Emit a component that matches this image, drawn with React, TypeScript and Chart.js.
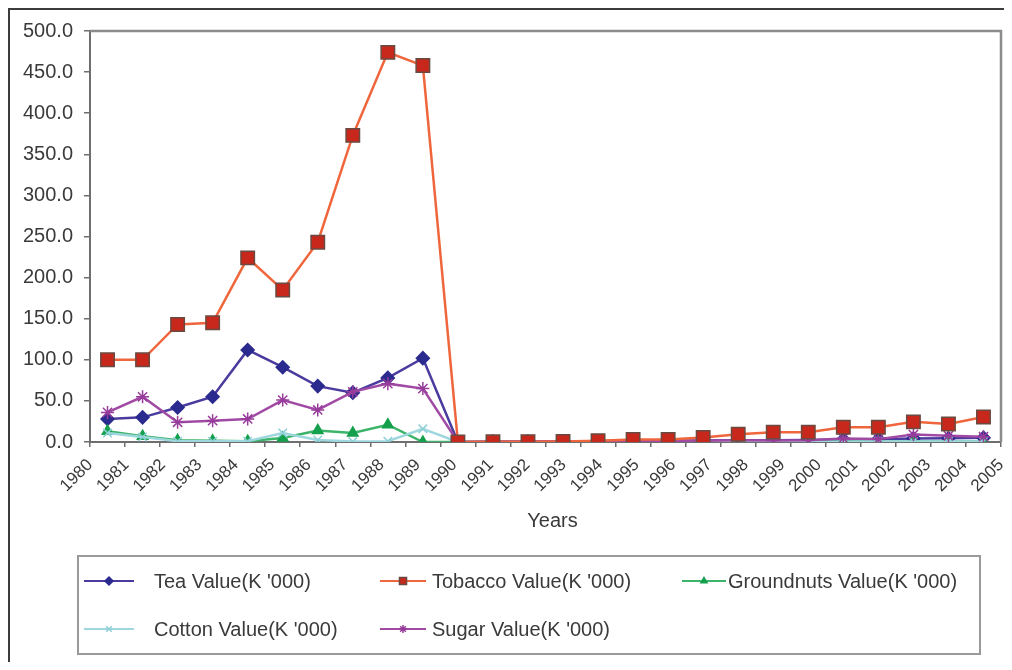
import React, { useEffect, useRef } from "react";
import { Chart, registerables } from "chart.js";
import { drawPoint } from "chart.js/helpers";

Chart.register(...registerables);

// Export values per crop, K '000, 1980-2005
const years = [
  "1980", "1981", "1982", "1983", "1984", "1985", "1986", "1987", "1988",
  "1989", "1990", "1991", "1992", "1993", "1994", "1995", "1996", "1997",
  "1998", "1999", "2000", "2001", "2002", "2003", "2004", "2005",
];

const teaValues = [
  28, 30, 42, 55, 112, 91, 68, 60, 78, 102, 0,
  0.3, 0.4, 0.6, 0.9, 1.1, 1.4, 1.7, 2.0, 2.1, 2.4, 2.9, 3.3, 4.2, 4.6, 5.2,
];

const tobaccoValues = [
  100, 100, 143, 145, 224, 185, 243, 373, 474, 458, 0,
  0.2, 0.4, 0.6, 1.5, 3, 3, 5.5, 9.5, 12, 12, 18, 18, 24.5, 22, 30.5,
];

const groundnutsValues = [
  13, 7, 2, 1.5, 1, 5, 14, 11, 21, 0, 0,
  0.1, 0.1, 0.2, 0.2, 0.3, 0.2, 0.3, 0.4, 0.3, 0.4, 0.5, 0.4, 0.6, 0.5, 0.6,
];

const cottonValues = [
  11, 6, 1, 1, 1, 11, 2.5, 0.5, 1, 16, 0,
  0.1, 0.1, 0.1, 0.2, 0.2, 0.2, 0.3, 0.3, 0.3, 0.4, 0.4, 0.5, 0.5, 0.6, 0.6,
];

const sugarValues = [
  36, 55, 24, 26, 28, 51, 39, 61, 71, 65, 0,
  0.5, 0.6, 0.8, 1, 1.3, 1.2, 1.5, 2, 1.8, 2.2, 4.4, 3.5, 9, 7.6, 6.4,
];

const yTicks = { min: 0, max: 500, step: 50 };

const FONT = '"Liberation Sans", Arial, Helvetica, sans-serif';
const TEXT = "#3a3a3a";

type Series = {
  label: string;
  data: number[];
  line: string;
  fill: string;
  border: string;
  style: string;
  radius: number;
  legendRadius: number;
  order: number;
};

const series: Series[] = [
  { label: "Tea Value(K '000)", data: teaValues, line: "#4a3c9e", fill: "#2b2a8e", border: "#2b2a8e", style: "rectRot", radius: 6.5, legendRadius: 4, order: 5 },
  { label: "Tobacco Value(K '000)", data: tobaccoValues, line: "#f0663c", fill: "#c8281c", border: "#6a4a40", style: "rect", radius: 9.5, legendRadius: 5, order: 1 },
  { label: "Groundnuts Value(K '000)", data: groundnutsValues, line: "#3cb46a", fill: "#14a04c", border: "#14a04c", style: "triangle", radius: 6, legendRadius: 3.5, order: 4 },
  { label: "Cotton Value(K '000)", data: cottonValues, line: "#9ed8de", fill: "#8fd0d8", border: "#8fd0d8", style: "crossRot", radius: 6, legendRadius: 4, order: 3 },
  { label: "Sugar Value(K '000)", data: sugarValues, line: "#a04aa4", fill: "#983c9c", border: "#983c9c", style: "star", radius: 6.5, legendRadius: 4, order: 2 },
];

// legend grid: [sample start, sample end, text x, row y] in canvas pixels
const legendSlots = [
  [76, 126, 146, 573],
  [372, 418, 424, 573],
  [674, 718, 720, 573],
  [76, 126, 146, 621],
  [372, 418, 424, 621],
];

const decorPlugin = {
  id: "decor",
  beforeDatasetsDraw(chart: any) {
    const { ctx, chartArea: a } = chart;
    ctx.save();
    // plot frame
    ctx.strokeStyle = "#8c8c8c";
    ctx.lineWidth = 2.5;
    ctx.beginPath();
    ctx.moveTo(a.left, a.top);
    ctx.lineTo(a.right, a.top);
    ctx.lineTo(a.right, a.bottom);
    ctx.stroke();
    ctx.restore();
  },
  afterDraw(chart: any) {
    const { ctx, chartArea: a, width } = chart;
    ctx.save();
    // outer frame
    ctx.strokeStyle = "#3c3c3c";
    ctx.lineWidth = 2;
    ctx.beginPath();
    ctx.moveTo(1, chart.height);
    ctx.lineTo(1, 1);
    ctx.lineTo(width, 1);
    ctx.stroke();

    // axis title
    ctx.fillStyle = TEXT;
    ctx.font = `20px ${FONT}`;
    ctx.textAlign = "center";
    ctx.textBaseline = "middle";
    ctx.fillText("Years", (a.left + a.right) / 2 + 7, 513);

    // legend box
    ctx.strokeStyle = "#9a9a9a";
    ctx.lineWidth = 2;
    ctx.strokeRect(70, 548, 902, 98);

    ctx.font = `20px ${FONT}`;
    ctx.textAlign = "left";
    series.forEach((s, i) => {
      const [x0, x1, tx, y] = legendSlots[i];
      ctx.strokeStyle = s.line;
      ctx.lineWidth = 2;
      ctx.beginPath();
      ctx.moveTo(x0, y);
      ctx.lineTo(x1, y);
      ctx.stroke();
      ctx.fillStyle = s.fill;
      ctx.strokeStyle = s.border;
      ctx.lineWidth = 1.5;
      drawPoint(ctx, { pointStyle: s.style as any, rotation: 0, radius: s.legendRadius, borderWidth: 1.5 }, (x0 + x1) / 2, y);
      ctx.fillStyle = TEXT;
      ctx.fillText(s.label, tx, y + 1);
    });
    ctx.restore();
  },
};

export default function App() {
  const ref = useRef<HTMLCanvasElement>(null);

  useEffect(() => {
    const canvas = ref.current;
    if (!canvas) return;
    const chart = new Chart(canvas, {
      type: "line",
      data: {
        labels: years,
        datasets: series.map((s) => ({
          label: s.label,
          data: s.data,
          borderColor: s.line,
          backgroundColor: s.fill,
          borderWidth: 2.5,
          pointStyle: s.style as any,
          pointRadius: s.radius,
          pointBackgroundColor: s.fill,
          pointBorderColor: s.border,
          pointBorderWidth: 1.5,
          tension: 0,
          order: s.order,
          xAxisID: "x",
          yAxisID: "y",
        })),
      },
      options: {
        responsive: false,
        animation: false,
        layout: { padding: { top: 19, left: 0, right: 8, bottom: 0 } },
        plugins: {
          legend: { display: false },
          tooltip: { enabled: false },
        },
        scales: {
          x: {
            type: "category",
            position: "bottom",
            offset: true,
            grid: {
              display: true,
              offset: true,
              drawOnChartArea: false,
              drawTicks: true,
              tickLength: 5,
              color: "#6e6e6e",
              lineWidth: 1.5,
            },
            border: { display: true, color: "#6e6e6e", width: 2 },
            ticks: { display: false },
            afterFit(scale: any) {
              scale.height = 0;
              scale.paddingLeft = 0;
              scale.paddingRight = 0;
            },
          },
          xLabels: {
            type: "category",
            position: "bottom",
            labels: years,
            offset: false,
            grid: { display: false },
            border: { display: false },
            ticks: {
              autoSkip: false,
              minRotation: 45,
              maxRotation: 45,
              padding: 5,
              color: TEXT,
              font: { family: FONT, size: 17 },
            },
            afterFit(scale: any) {
              scale.height = 220;
              scale.paddingLeft = 0;
              scale.paddingRight = 0;
            },
          },
          y: {
            type: "linear",
            position: "left",
            min: yTicks.min,
            max: yTicks.max,
            grid: {
              display: true,
              drawOnChartArea: false,
              drawTicks: true,
              tickLength: 6,
              color: "#6e6e6e",
              lineWidth: 1.5,
            },
            border: { display: true, color: "#6e6e6e", width: 2 },
            ticks: {
              stepSize: yTicks.step,
              padding: 11,
              color: TEXT,
              font: { family: FONT, size: 20 },
              callback: (v: any) => Number(v).toFixed(1),
            },
            afterFit(scale: any) {
              scale.width = 82;
            },
          },
        },
      },
      plugins: [decorPlugin],
    });
    return () => chart.destroy();
  }, []);

  return (
    <canvas
      ref={ref}
      width={1004}
      height={654}
      style={{ display: "block", width: 1004, height: 654 }}
    />
  );
}
